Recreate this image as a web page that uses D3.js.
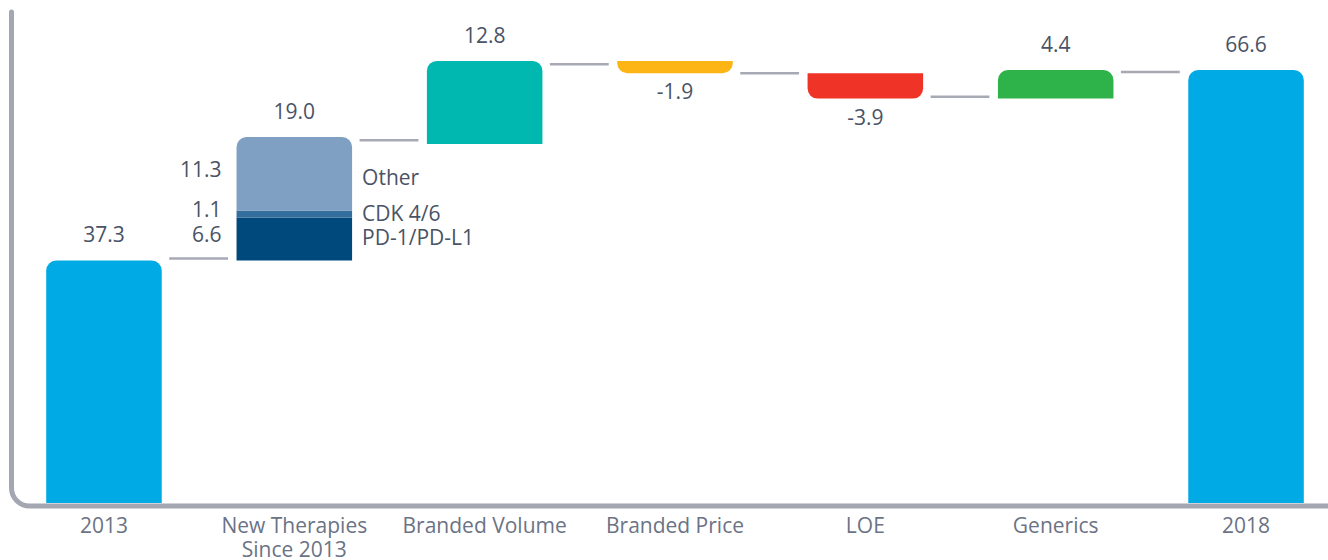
<!DOCTYPE html>
<html>
<head>
<meta charset="utf-8" />
<script src="https://cdn.jsdelivr.net/npm/d3@7/dist/d3.min.js"></script>
<style>
  body { margin: 0; background: #fff; }
  svg text { font-family: "Open Sans", "Noto Sans", sans-serif; }
</style>
</head>
<body>
<div id="chart"></div>
<script>
// waterfall data
var categories = ["2013", "New Therapies|Since 2013", "Branded Volume", "Branded Price", "LOE", "Generics", "2018"];
var changes = [37.3, 19.0, 12.8, -1.9, -3.9, 4.4, 66.6];
var starts = [0, 37.3, 55.2, 68.0, 66.1, 62.2, 0];
var connectorLevels = [37.6, 55.8, 67.5, 66.1, 62.5, 66.3];
var barColors = ["#00aae4", null, "#00b8b0", "#fdb515", "#ef3327", "#2db34a", "#00aae4"];

// split of the new therapies bar
var ntNames = ["PD-1/PD-L1", "CDK 4/6", "Other"];
var ntValues = [6.6, 1.1, 11.3];
var ntColors = ["#00497c", "#336e9c", "#7f9fc3"];

var width = 1328, height = 560;
var fs = "21px";

var svg = d3.select("#chart").append("svg")
  .attr("width", width)
  .attr("height", height);

var x = d3.scaleBand()
  .domain(categories)
  .range([8.8, 1341.2])
  .paddingInner(0.393)
  .paddingOuter(0.1965);

var y = d3.scaleLinear()
  .domain([0, 66.6])
  .range([503, 70]);

var bw = x.bandwidth();

// bar path with two rounded corners, on top (up) or at the bottom (down)
function bar(x0, y0, w, h, r, up) {
  var p = d3.path();
  if (up) {
    p.moveTo(x0, y0 + h);
    p.lineTo(x0, y0 + r);
    p.arcTo(x0, y0, x0 + r, y0, r);
    p.lineTo(x0 + w - r, y0);
    p.arcTo(x0 + w, y0, x0 + w, y0 + r, r);
    p.lineTo(x0 + w, y0 + h);
  } else {
    p.moveTo(x0, y0);
    p.lineTo(x0 + w, y0);
    p.lineTo(x0 + w, y0 + h - r);
    p.arcTo(x0 + w, y0 + h, x0 + w - r, y0 + h, r);
    p.lineTo(x0 + r, y0 + h);
    p.arcTo(x0, y0 + h, x0, y0 + h - r, r);
  }
  p.closePath();
  return p.toString();
}

// axis frame: left and bottom line with a rounded corner
var ax = 11.5, ay = 506, ar = 18;
var frame = d3.path();
frame.moveTo(ax, 12);
frame.lineTo(ax, ay - ar);
frame.arcTo(ax, ay, ax + ar, ay, ar);
frame.lineTo(width + 5, ay);
svg.append("path")
  .attr("d", frame.toString())
  .attr("fill", "none")
  .attr("stroke", "#a4a6b2")
  .attr("stroke-width", 5)
  .attr("stroke-linecap", "round");

// connectors
svg.append("g").selectAll("line")
  .data(connectorLevels)
  .enter().append("line")
  .attr("x1", function(d, i) { return x(categories[i]) + bw + 7.5; })
  .attr("x2", function(d, i) { return x(categories[i + 1]) - 8.5; })
  .attr("y1", function(d) { return y(d); })
  .attr("y2", function(d) { return y(d); })
  .attr("stroke", "#a7a9b5")
  .attr("stroke-width", 2.5);

// main bars
categories.forEach(function(c, i) {
  if (i === 1) return;
  var lo = Math.min(starts[i], starts[i] + changes[i]);
  var hi = Math.max(starts[i], starts[i] + changes[i]);
  var r = Math.min(10, (y(lo) - y(hi)));
  svg.append("path")
    .attr("d", bar(x(c), y(hi), bw, y(lo) - y(hi), r, changes[i] > 0))
    .attr("fill", barColors[i]);
});

// stacked new therapies bar
var acc = starts[1];
var ntSegs = ntValues.map(function(v, j) {
  var s = { name: ntNames[j], value: v, lo: acc, hi: acc + v, color: ntColors[j] };
  acc += v;
  return s;
});
ntSegs.forEach(function(s, j) {
  var top = y(s.hi), h = y(s.lo) - y(s.hi);
  svg.append("path")
    .attr("d", bar(x(categories[1]), top, bw, h, j === ntSegs.length - 1 ? 10 : 0, true))
    .attr("fill", s.color);
});

// segment values on the left, names on the right
var nameShift = [6, 7, 11];
var segLabels = svg.append("g").attr("font-size", fs).attr("fill", "#4a5366");
segLabels.selectAll(".segval")
  .data(ntSegs)
  .enter().append("text")
  .attr("class", "segval")
  .attr("x", x(categories[1]) - 15)
  .attr("y", function(d) { return (y(d.lo) + y(d.hi)) / 2 + 3; })
  .attr("text-anchor", "end")
  .text(function(d) { return d.value.toFixed(1); });
segLabels.selectAll(".segname")
  .data(ntSegs)
  .enter().append("text")
  .attr("class", "segname")
  .attr("x", x(categories[1]) + bw + 10)
  .attr("y", function(d, j) { return (y(d.lo) + y(d.hi)) / 2 + nameShift[j]; })
  .text(function(d) { return d.name; });

// value labels
svg.append("g").selectAll("text")
  .data(changes)
  .enter().append("text")
  .attr("x", function(d, i) { return x(categories[i]) + bw / 2; })
  .attr("y", function(d, i) {
    var lo = Math.min(starts[i], starts[i] + d);
    var hi = Math.max(starts[i], starts[i] + d);
    return d > 0 ? y(hi) - 18 : y(lo) + 26;
  })
  .attr("text-anchor", "middle")
  .attr("font-size", fs)
  .attr("fill", "#4a5366")
  .text(function(d) { return d.toFixed(1); });

// category labels
var cl = svg.append("g").selectAll("text")
  .data(categories)
  .enter().append("text")
  .attr("x", function(d) { return x(d) + bw / 2; })
  .attr("y", 533)
  .attr("text-anchor", "middle")
  .attr("font-size", fs)
  .attr("fill", "#6b7385");
cl.selectAll("tspan")
  .data(function(d) { return d.split("|"); })
  .enter().append("tspan")
  .attr("x", function() { var c = this.parentNode.__data__; return x(c) + bw / 2; })
  .attr("dy", function(d, k) { return k === 0 ? 0 : 24; })
  .text(function(d) { return d; });
</script>
</body>
</html>
